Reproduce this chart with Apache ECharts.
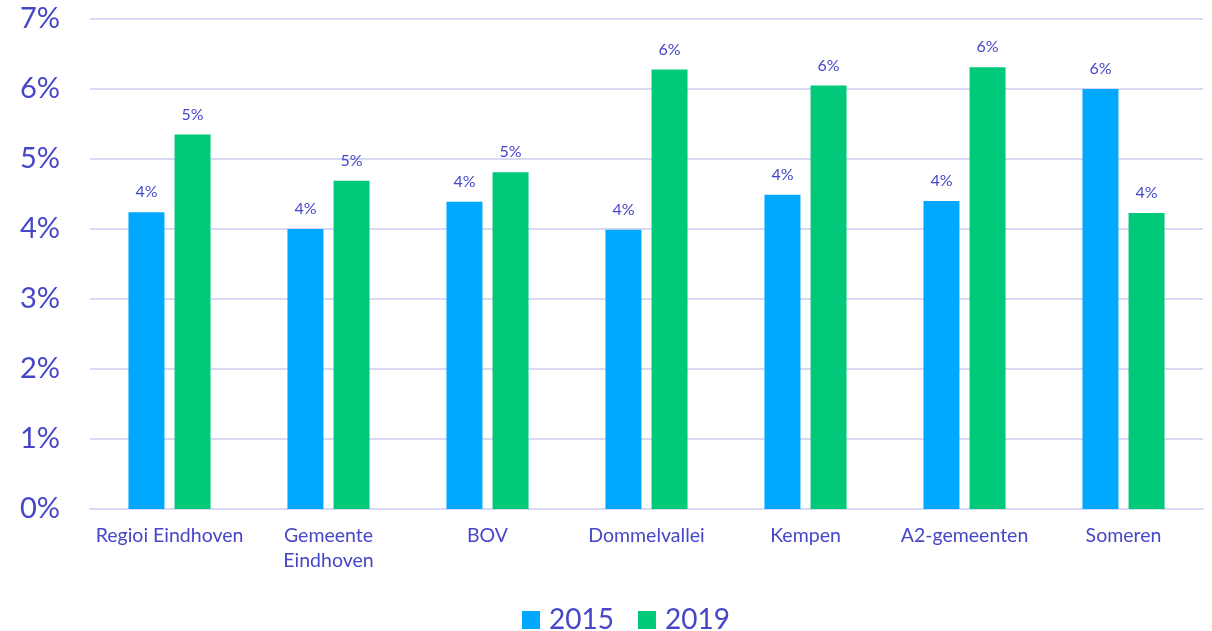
<!DOCTYPE html>
<html><head><meta charset="utf-8">
<script src="https://cdn.jsdelivr.net/npm/echarts@6/dist/echarts.min.js"></script>
<style>html,body{margin:0;padding:0;background:#fff}#c{width:1212px;height:631px}</style>
</head><body><div id="c"></div>
<script>
const categories = ['Regioi Eindhoven', 'Gemeente\nEindhoven', 'BOV', 'Dommelvallei', 'Kempen', 'A2-gemeenten', 'Someren'];
const values2015 = [4.24, 4.00, 4.39, 3.99, 4.49, 4.40, 6.00];
const values2019 = [5.35, 4.69, 4.81, 6.28, 6.05, 6.31, 4.23];
const seriesNames = ['2015', '2019'];

const txt = '#4646C8';
const font = 'Lato';
const chart = echarts.init(document.getElementById('c'));
const lbl = {show: true, position: 'top', distance: 12, color: txt, fontSize: 16, fontFamily: font,
  formatter: p => Math.round(p.value) + '%'};
chart.setOption({
  animation: false,
  grid: {left: 90, right: 9, top: 19, bottom: 122},
  legend: {top: 601, left: 517, itemWidth: 18, itemHeight: 18, itemGap: 24,
    icon: 'rect', textStyle: {color: txt, fontSize: 28, fontFamily: font, padding: [0, 0, 0, 4]},
    data: seriesNames},
  xAxis: {type: 'category', data: categories,
    axisLine: {lineStyle: {color: '#D9D9F3', width: 2}}, axisTick: {show: false},
    axisLabel: {color: txt, fontSize: 19.5, fontFamily: font, margin: 14, lineHeight: 25, interval: 0}},
  yAxis: {type: 'value', min: 0, max: 7, interval: 1,
    axisLabel: {color: txt, fontSize: 29, fontFamily: font, margin: 30, formatter: v => v + '%'},
    splitLine: {lineStyle: {color: '#D9D9F3', width: 2}}},
  series: [
    {name: seriesNames[0], type: 'bar', data: values2015, barWidth: 36, barGap: '28%',
      itemStyle: {color: '#00A8FF'}, label: lbl},
    {name: seriesNames[1], type: 'bar', data: values2019, barWidth: 36,
      itemStyle: {color: '#00C97A'}, label: lbl}
  ]
});
</script></body></html>
